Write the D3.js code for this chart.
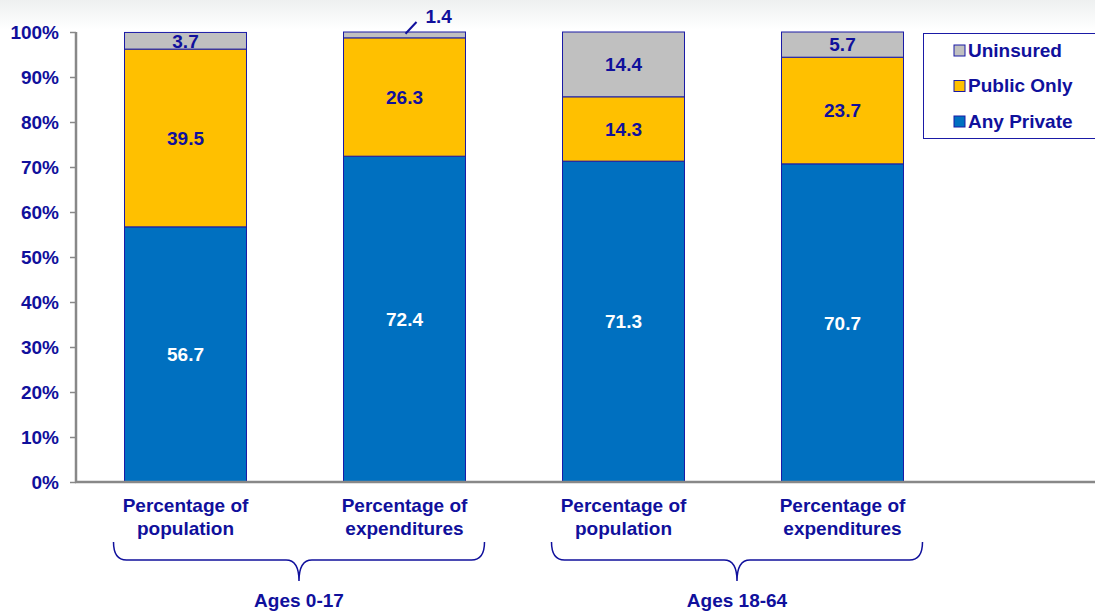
<!DOCTYPE html>
<html>
<head>
<meta charset="utf-8">
<script src="https://cdn.jsdelivr.net/npm/d3@7"></script>
<style>
  body { margin: 0; background: white; }
  text { font-family: Arial, "Liberation Sans", sans-serif; font-weight: bold; }
</style>
</head>
<body>
<script>
// data
var categories = ["pop0", "exp0", "pop1", "exp1"];
var catLines = [["Percentage of", "population"], ["Percentage of", "expenditures"],
                ["Percentage of", "population"], ["Percentage of", "expenditures"]];
var groups = ["Ages 0-17", "Ages 18-64"];
var series = ["Any Private", "Public Only", "Uninsured"];
var anyPrivate = [56.7, 72.4, 71.3, 70.7];
var publicOnly = [39.5, 26.3, 14.3, 23.7];
var uninsured = [3.7, 1.4, 14.4, 5.7];
var yTicks = [0, 10, 20, 30, 40, 50, 60, 70, 80, 90, 100];

var width = 1095, height = 611;
var margin = {top: 32, bottom: 130, left: 76, right: 143};
var textColor = "#10109c";
var fontSize = "19px";
var colors = {"Any Private": "#0070c0", "Public Only": "#ffc000", "Uninsured": "#c0c0c0"};

var svg = d3.select("body").append("svg")
  .attr("width", width)
  .attr("height", height);

// faint gradient at top
var grad = svg.append("defs").append("linearGradient")
  .attr("id", "topfade").attr("x1", 0).attr("y1", 0).attr("x2", 0).attr("y2", 1);
grad.append("stop").attr("offset", "0%").attr("stop-color", "#eef0f0");
grad.append("stop").attr("offset", "100%").attr("stop-color", "#ffffff");
svg.append("rect").attr("width", width).attr("height", 30).attr("fill", "url(#topfade)");

var table = categories.map(function(c, i) {
  return {cat: c, "Any Private": anyPrivate[i], "Public Only": publicOnly[i], "Uninsured": uninsured[i]};
});
var stacked = d3.stack().keys(series)(table);

var yScale = d3.scaleLinear()
  .domain([0, 100])
  .range([height - margin.bottom + 1, margin.top]);

var xScale = d3.scaleBand()
  .domain(categories)
  .range([margin.left, 952])
  .paddingInner(0.443)
  .paddingOuter(0.2215);

// bars
var layer = svg.selectAll(".layer")
  .data(stacked)
  .enter()
  .append("g")
  .attr("class", "layer")
  .attr("fill", function(d) { return colors[d.key]; });

layer.selectAll("rect")
  .data(function(d) { return d; })
  .enter()
  .append("rect")
  .attr("x", function(d) { return xScale(d.data.cat); })
  .attr("y", function(d) { return yScale(Math.min(d[1], 100)); })
  .attr("width", xScale.bandwidth())
  .attr("height", function(d) { return yScale(d[0]) - yScale(Math.min(d[1], 100)); })
  .attr("stroke", "#1a1aa6")
  .attr("stroke-width", 1);

// value labels
stacked.forEach(function(s) {
  s.forEach(function(d) {
    var v = d[1] - d[0];
    var cx = xScale(d.data.cat) + xScale.bandwidth() / 2;
    var cy = yScale((d[0] + Math.min(d[1], 100)) / 2);
    if (v < 2) {
      // small slice: label outside with a leader line
      svg.append("line")
        .attr("x1", cx + 1).attr("y1", yScale(d[0] + v / 2) - 1)
        .attr("x2", cx + 12).attr("y2", yScale(100) - 10)
        .attr("stroke", textColor).attr("stroke-width", 2);
      svg.append("text")
        .attr("x", cx + 21).attr("y", yScale(100) - 9)
        .attr("fill", textColor).style("font-size", fontSize)
        .text(v.toFixed(1));
      return;
    }
    svg.append("text")
      .attr("x", cx)
      .attr("y", cy)
      .attr("dy", "0.36em")
      .attr("text-anchor", "middle")
      .attr("fill", s.key === "Any Private" ? "white" : textColor)
      .style("font-size", fontSize)
      .text(v.toFixed(1));
  });
});

// axes
var yAxis = svg.append("g")
  .attr("transform", "translate(" + margin.left + ",0)")
  .call(d3.axisLeft(yScale).tickValues(yTicks).tickSize(6).tickPadding(11)
    .tickFormat(function(d) { return d + "%"; }));
yAxis.select(".domain").attr("stroke", "#888").attr("stroke-width", 2.5)
  .attr("d", "M0," + yScale(100) + "V" + yScale(0));
yAxis.selectAll(".tick line").attr("stroke", "#888").attr("stroke-width", 1.5);
yAxis.selectAll(".tick text").attr("fill", textColor).style("font-size", fontSize)
  .style("font-family", "Arial, 'Liberation Sans', sans-serif").style("font-weight", "bold");

svg.append("line")
  .attr("x1", margin.left - 1).attr("x2", width)
  .attr("y1", yScale(0)).attr("y2", yScale(0))
  .attr("stroke", "#888").attr("stroke-width", 2.5);

// category labels
categories.forEach(function(c, i) {
  var t = svg.append("text")
    .attr("x", xScale(c) + xScale.bandwidth() / 2)
    .attr("y", 512)
    .attr("text-anchor", "middle")
    .attr("fill", textColor)
    .style("font-size", fontSize);
  t.append("tspan").attr("x", xScale(c) + xScale.bandwidth() / 2).text(catLines[i][0]);
  t.append("tspan").attr("x", xScale(c) + xScale.bandwidth() / 2).attr("dy", 23).text(catLines[i][1]);
});

// group braces
groups.forEach(function(g, i) {
  var c1 = xScale(categories[i * 2]) + xScale.bandwidth() / 2;
  var c2 = xScale(categories[i * 2 + 1]) + xScale.bandwidth() / 2;
  var x0 = c1 - 72, x1 = c2 + 80, xm = (x0 + x1) / 2;
  var top = 542, mid = 560, tip = 581, r = 13;
  var path = "M" + x0 + "," + top +
    " Q" + x0 + "," + mid + " " + (x0 + r) + "," + mid +
    " L" + (xm - r) + "," + mid +
    " Q" + xm + "," + mid + " " + xm + "," + tip +
    " Q" + xm + "," + mid + " " + (xm + r) + "," + mid +
    " L" + (x1 - r) + "," + mid +
    " Q" + x1 + "," + mid + " " + x1 + "," + top;
  svg.append("path").attr("d", path).attr("fill", "none")
    .attr("stroke", textColor).attr("stroke-width", 1.5);
  svg.append("text")
    .attr("x", xm).attr("y", 607)
    .attr("text-anchor", "middle")
    .attr("fill", textColor)
    .style("font-size", fontSize)
    .text(g);
});

// legend
var legend = svg.append("g").attr("transform", "translate(923,33)");
legend.append("rect").attr("x", 0.5).attr("y", 0.5).attr("width", 180).attr("height", 105)
  .attr("fill", "white").attr("stroke", "#1a1aa6").attr("stroke-width", 1);
var legendOrder = ["Uninsured", "Public Only", "Any Private"];
legendOrder.forEach(function(k, i) {
  var yy = 17 + i * 35.5;
  legend.append("rect").attr("x", 31).attr("y", yy - 5).attr("width", 11).attr("height", 11)
    .attr("fill", colors[k]).attr("stroke", "#1a1aa6").attr("stroke-width", 1);
  legend.append("text").attr("x", 45).attr("y", yy).attr("dy", "0.36em")
    .attr("fill", textColor).style("font-size", fontSize).text(k);
});
</script>
</body>
</html>
